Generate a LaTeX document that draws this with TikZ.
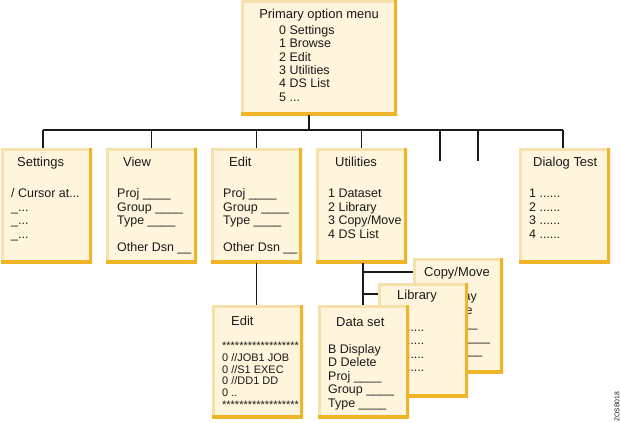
\documentclass[tikz,border=0pt]{standalone}
\usepackage{fontspec}
\setmainfont{Liberation Sans}
\definecolor{cream}{HTML}{FFF5DC}
\definecolor{tanedge}{HTML}{F6E0AC}
\definecolor{orangeedge}{HTML}{F0B428}
\definecolor{ink}{HTML}{1A1A1A}
\newcommand\tdots{...}
\newcommand\sdots{......}
\newcommand\tlines[6]{%
  \foreach \t [count=\i] in {#6} {\node[#2] (#1\i) at (#3,{#4+(\i-1)*#5}) {\t};}}
\tikzset{
  panel/.style={fill=cream, inner sep=0, outer sep=0, anchor=north west,
    minimum width=91bp, minimum height=115bp,
    path picture={
      \draw[tanedge, line width=5bp] (path picture bounding box.south west) -- (path picture bounding box.north west) -- (path picture bounding box.north east);
      \draw[orangeedge, line width=6bp] (path picture bounding box.north east) -- (path picture bounding box.south east) -- (path picture bounding box.south west);
    }},
  ttl/.style={font=\fontsize{13}{15}\selectfont, text=ink, inner sep=0, anchor=base west},
  bdy/.style={font=\fontsize{12.5}{13.5}\selectfont, text=ink, inner sep=0, anchor=base west},
  sml/.style={font=\fontsize{11}{12}\selectfont, text=ink, inner sep=0, anchor=base west},
  conn/.style={draw=ink, line width=1.3bp}
}
\begin{document}
\begin{tikzpicture}[x=1bp,y=-1bp]
\useasboundingbox (0,0) rectangle (620,422);

% primary
\node[panel, minimum width=156bp] (primary) at (241,0) {};
\node[ttl, anchor=base] (pt) at (319,18) {Primary option menu};
\tlines{pb}{bdy}{279}{34.5}{13.3}{0 Settings, 1 Browse, 2 Edit, 3 Utilities, 4 DS List, 5 \tdots}

% second row
\node[panel] (settings) at (1,148) {};
\node[ttl] (st) at (17,166.5) {Settings};
\tlines{sb}{bdy}{11}{197.5}{13.5}{{/ Cursor at\tdots}, \_\tdots, \_\tdots, \_\tdots}

\node[panel] (view) at (106,148) {};
\node[ttl] (vt) at (123,166.5) {View};
\tlines{vb}{bdy}{117}{197.5}{13.5}{Proj \_\_\_\_, Group \_\_\_\_, Type \_\_\_\_}
\node[bdy] (vo) at (117,251.5) {Other Dsn \_\_};

\node[panel] (edit) at (211,148) {};
\node[ttl] (et) at (229,166.5) {Edit};
\tlines{eb}{bdy}{223}{197.5}{13.5}{Proj \_\_\_\_, Group \_\_\_\_, Type \_\_\_\_}
\node[bdy] (eo) at (223,251.5) {Other Dsn \_\_};

\node[panel] (util) at (316,148) {};
\node[ttl] (ut) at (335,166.5) {Utilities};
\tlines{ub}{bdy}{328}{197.5}{13.5}{1 Dataset, 2 Library, {3 Copy/Move}, 4 DS List}

\node[panel] (dialog) at (519,148) {};
\node[ttl] (dt) at (533,166.5) {Dialog Test};
\tlines{db}{bdy}{529}{197.5}{13.5}{1 \sdots, 2 \sdots, 3 \sdots, 4 \sdots}

% bottom edit
\node[panel, minimum height=113bp] (edit2) at (212,305) {};
\node[ttl] (e2t) at (231,325.5) {Edit};
\tlines{e2b}{sml}{222}{349.8}{11.7}{******************, {0 //JOB1 JOB}, {0 //S1 EXEC}, {0 //DD1 DD}, 0 .., ******************}

% stacked utility panels
\node[panel, minimum width=90bp] (copymove) at (413,258) {};
\node[ttl] (ct) at (424,276.5) {Copy/Move};
\tlines{cb}{bdy}{424}{300.5}{13.5}{B Display, D Delete, Proj \_\_\_\_, Group \_\_\_\_, Type \_\_\_\_}

\node[panel, minimum width=90bp, minimum height=114bp] (library) at (378,283) {};
\node[ttl] (lt) at (397,299.5) {Library};
\tlines{lb}{bdy}{393}{331}{13.5}{1 \sdots, 2 \sdots, 3 \sdots, 4 \sdots}

\node[panel, minimum height=113bp] (dataset) at (318,305) {};
\node[ttl] (dst) at (336,326.5) {Data set};
\tlines{dsb}{bdy}{328}{353.5}{13.4}{B Display, D Delete, Proj \_\_\_\_, Group \_\_\_\_, Type \_\_\_\_}

% connectors
\coordinate (busL) at (43,130);
\coordinate (busR) at (563,130);
\coordinate (drop1) at (440,161);
\coordinate (drop2) at (478,161);
\draw[conn] ([xshift=-10bp]primary.south) -- ([xshift=-10bp]primary.south |- busL);
\draw[conn] (busL) -- (busR);
\draw[conn] (busL) -- (busL |- settings.north);
\draw[conn] (view.north |- busL) -- (view.north);
\draw[conn] (edit.north |- busL) -- (edit.north);
\draw[conn] (util.north |- busL) -- (util.north);
\draw[conn] (drop1 |- busL) -- (drop1);
\draw[conn] (drop2 |- busL) -- (drop2);
\draw[conn] (busR) -- (busR |- dialog.north);
\draw[conn] (edit.south) -- (edit.south |- edit2.north);
\coordinate (br1) at ([xshift=1.5bp]util.south |- 0,272);
\coordinate (br2) at ([xshift=1.5bp]util.south |- 0,294);
\draw[conn] ([xshift=1.5bp]util.south) -- ([xshift=1.5bp]util.south |- dataset.north);
\draw[conn] (br1) -- (br1 -| copymove.west);
\draw[conn] (br2) -- (br2 -| library.west);

\node[rotate=90, font=\fontsize{6.8}{7}\selectfont, text=ink, inner sep=0] (code) at (617,407) {ZOSB018};
\end{tikzpicture}
\end{document}
